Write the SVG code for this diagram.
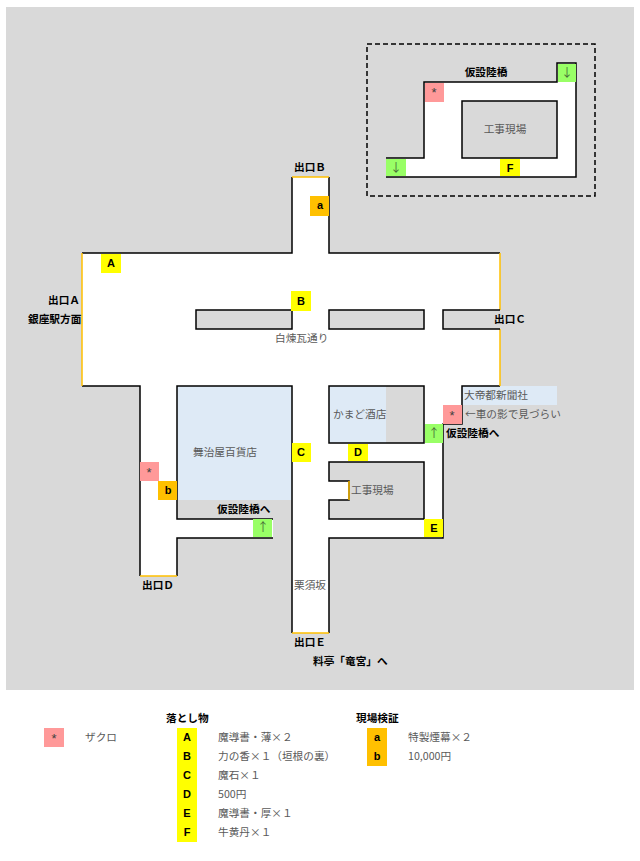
<svg xmlns="http://www.w3.org/2000/svg" width="640" height="861" viewBox="0 0 640 861">
<style>
text{font-family:"Noto Sans CJK JP","Liberation Sans",sans-serif;font-size:10.67px;fill:#595959}
.b{font-weight:700;fill:#000}
.c{text-anchor:middle}
.k{font-family:"Liberation Sans",sans-serif;font-weight:700;font-size:11px;fill:#000;text-anchor:middle}
.w{fill:#fff;stroke:none}
.g{fill:#d9d9d9;stroke:#000;stroke-width:1.5}
.l{fill:none;stroke:#000;stroke-width:1.5}
.o{fill:none;stroke:#ffc000;stroke-width:1.5}
.y{fill:#ff0}.am{fill:#ffc000}.p{fill:#f99}.gr{fill:#9f6}.bl{fill:#deeaf6}
.ar{font-family:"Noto Sans CJK JP",sans-serif;font-size:12px;fill:#4a6b3a;text-anchor:middle}
.st{font-family:"Liberation Sans",sans-serif;font-size:13px;fill:#404040;text-anchor:middle}
</style>
<rect x="6" y="7" width="628" height="683" fill="#d9d9d9"/>

<g id="floor">
<path class="w" d="M82 253H292V177H329V253H500V386H462V424H443V538H329V633H292V386H177V519H273V538H177V576H140V386H82Z"/>
<rect class="bl" x="177" y="386" width="115" height="114"/>
<rect fill="#d9d9d9" x="177" y="500" width="115" height="19"/>
<rect fill="#d9d9d9" x="273" y="519" width="19" height="19"/>
<rect class="bl" x="462" y="386" width="95" height="19"/>
</g>

<g id="connectors">
<path class="l" d="M82 253H292V177M329 177V253H500M500 386H462V424H443V538H329V633M292 633V386H177V519H273M273 538H177V576M140 576V386H82"/>
<path class="o" d="M82 253V386M500 253V310M500 329V386M292 177H329M140 576H177M292 633H329"/>
</g>

<g id="block-1"><rect class="g" x="196" y="310" width="96" height="19"/></g>
<g id="block-2"><rect class="g" x="329" y="310" width="95" height="19"/></g>
<g id="block-3"><path class="g" d="M500 310H443V329H500"/></g>

<g id="kamado">
<rect fill="#d9d9d9" x="329" y="386" width="95" height="57"/>
<rect class="bl" x="329" y="386" width="57" height="57"/>
<rect class="l" x="329" y="386" width="95" height="57"/>
<text x="333" y="418">かまど酒店</text>
</g>
<g id="site-south">
<path class="g" d="M329 462H424V519H329V500H349V481H329Z"/>
<path class="o" d="M349 481V500"/>
<text x="351" y="494">工事現場</text>
</g>
<g id="maijiya"><text x="193" y="456">舞治屋百貨店</text></g>

<g id="bridge">
<rect x="367" y="44" width="228" height="152" fill="none" stroke="#000" stroke-width="1.5" stroke-dasharray="5 3"/>
<path class="w" d="M386 158H424V82H557V63H576V177H386Z"/>
<path class="l" d="M386 158H424V82H557V63H576V177H386"/>
<rect class="g" x="462" y="101" width="95" height="57"/>
<text class="c" x="505" y="133">工事現場</text>
<text class="b c" x="486" y="76">仮設陸橋</text>
<rect class="gr" x="386" y="159" width="20" height="17"/><text class="ar" x="396" y="172">↓</text>
<rect class="gr" x="558" y="64" width="18" height="18"/><text class="ar" x="567" y="77">↓</text>
<rect class="p" x="425" y="83" width="19" height="19"/><text class="st" x="434" y="97">*</text>
<rect class="y" x="500" y="159" width="20" height="17"/><text class="k" x="510" y="172">F</text>
</g>

<g id="item-a"><rect class="am" x="310" y="196" width="19" height="20"/><text class="k" x="320" y="209">a</text></g>
<g id="item-A"><rect class="y" x="101" y="254" width="20" height="19"/><text class="k" x="111" y="267">A</text></g>
<g id="item-B"><rect class="y" x="291" y="291" width="20" height="20"/><text class="k" x="301" y="305">B</text></g>
<g id="item-C"><rect class="y" x="292" y="443" width="19" height="19"/><text class="k" x="301" y="456">C</text></g>
<g id="item-D"><rect class="y" x="348" y="444" width="20" height="17"/><text class="k" x="358" y="456">D</text></g>
<g id="item-E"><rect class="y" x="424" y="519" width="19" height="18"/><text class="k" x="434" y="532">E</text></g>
<g id="item-b"><rect class="am" x="158" y="481" width="19" height="19"/><text class="k" x="168" y="494">b</text></g>
<g id="enemy-1"><rect class="p" x="140" y="462" width="19" height="19"/><text class="st" x="149" y="477">*</text></g>
<g id="enemy-2"><rect class="p" x="443" y="405" width="19" height="19"/><text class="st" x="452" y="420">*</text></g>
<g id="up-1"><rect class="gr" x="425" y="424" width="18" height="19"/><text class="ar" x="434" y="438">↑</text></g>
<g id="up-2"><rect class="gr" x="253" y="519" width="19" height="18"/><text class="ar" x="263" y="532">↑</text></g>

<g id="labels">
<text class="b" x="294" y="171">出口Ｂ</text>
<text class="b" x="48" y="304">出口Ａ</text>
<text class="b" x="28" y="323">銀座駅方面</text>
<text class="b" x="494" y="323">出口Ｃ</text>
<text class="b" x="142" y="589">出口Ｄ</text>
<text class="b" x="294" y="646">出口Ｅ</text>
<text class="b" x="313" y="665">料亭「竜宮」へ</text>
<text class="b" x="217" y="513">仮設陸橋へ</text>
<text class="b" x="446" y="437">仮設陸橋へ</text>
<text x="275" y="342">白煉瓦通り</text>
<text x="294" y="589">栗須坂</text>
<text x="464" y="399">大帝都新聞社</text>
<text x="465" y="418">←車の影で見づらい</text>
</g>

<g id="legend">
<rect class="p" x="44" y="728" width="20" height="19"/><text class="st" x="54" y="743">*</text>
<text x="85" y="741">ザクロ</text>
<text class="b" x="166" y="722">落とし物</text>
<rect class="y" x="177" y="728" width="20" height="114"/>
<text class="k" x="187" y="741">A</text><text class="k" x="187" y="760">B</text><text class="k" x="187" y="779">C</text><text class="k" x="187" y="798">D</text><text class="k" x="187" y="817">E</text><text class="k" x="187" y="836">F</text>
<text x="218" y="741">魔導書・薄×２</text>
<text x="218" y="760">力の香×１（垣根の裏）</text>
<text x="218" y="779">魔石×１</text>
<text x="218" y="798">500円</text>
<text x="218" y="817">魔導書・厚×１</text>
<text x="218" y="836">牛黄丹×１</text>
<text class="b" x="356" y="722">現場検証</text>
<rect class="am" x="367" y="728" width="20" height="38"/>
<text class="k" x="377" y="741">a</text><text class="k" x="377" y="760">b</text>
<text x="408" y="741">特製煙幕×２</text>
<text x="408" y="760">10,000円</text>
</g>
</svg>
